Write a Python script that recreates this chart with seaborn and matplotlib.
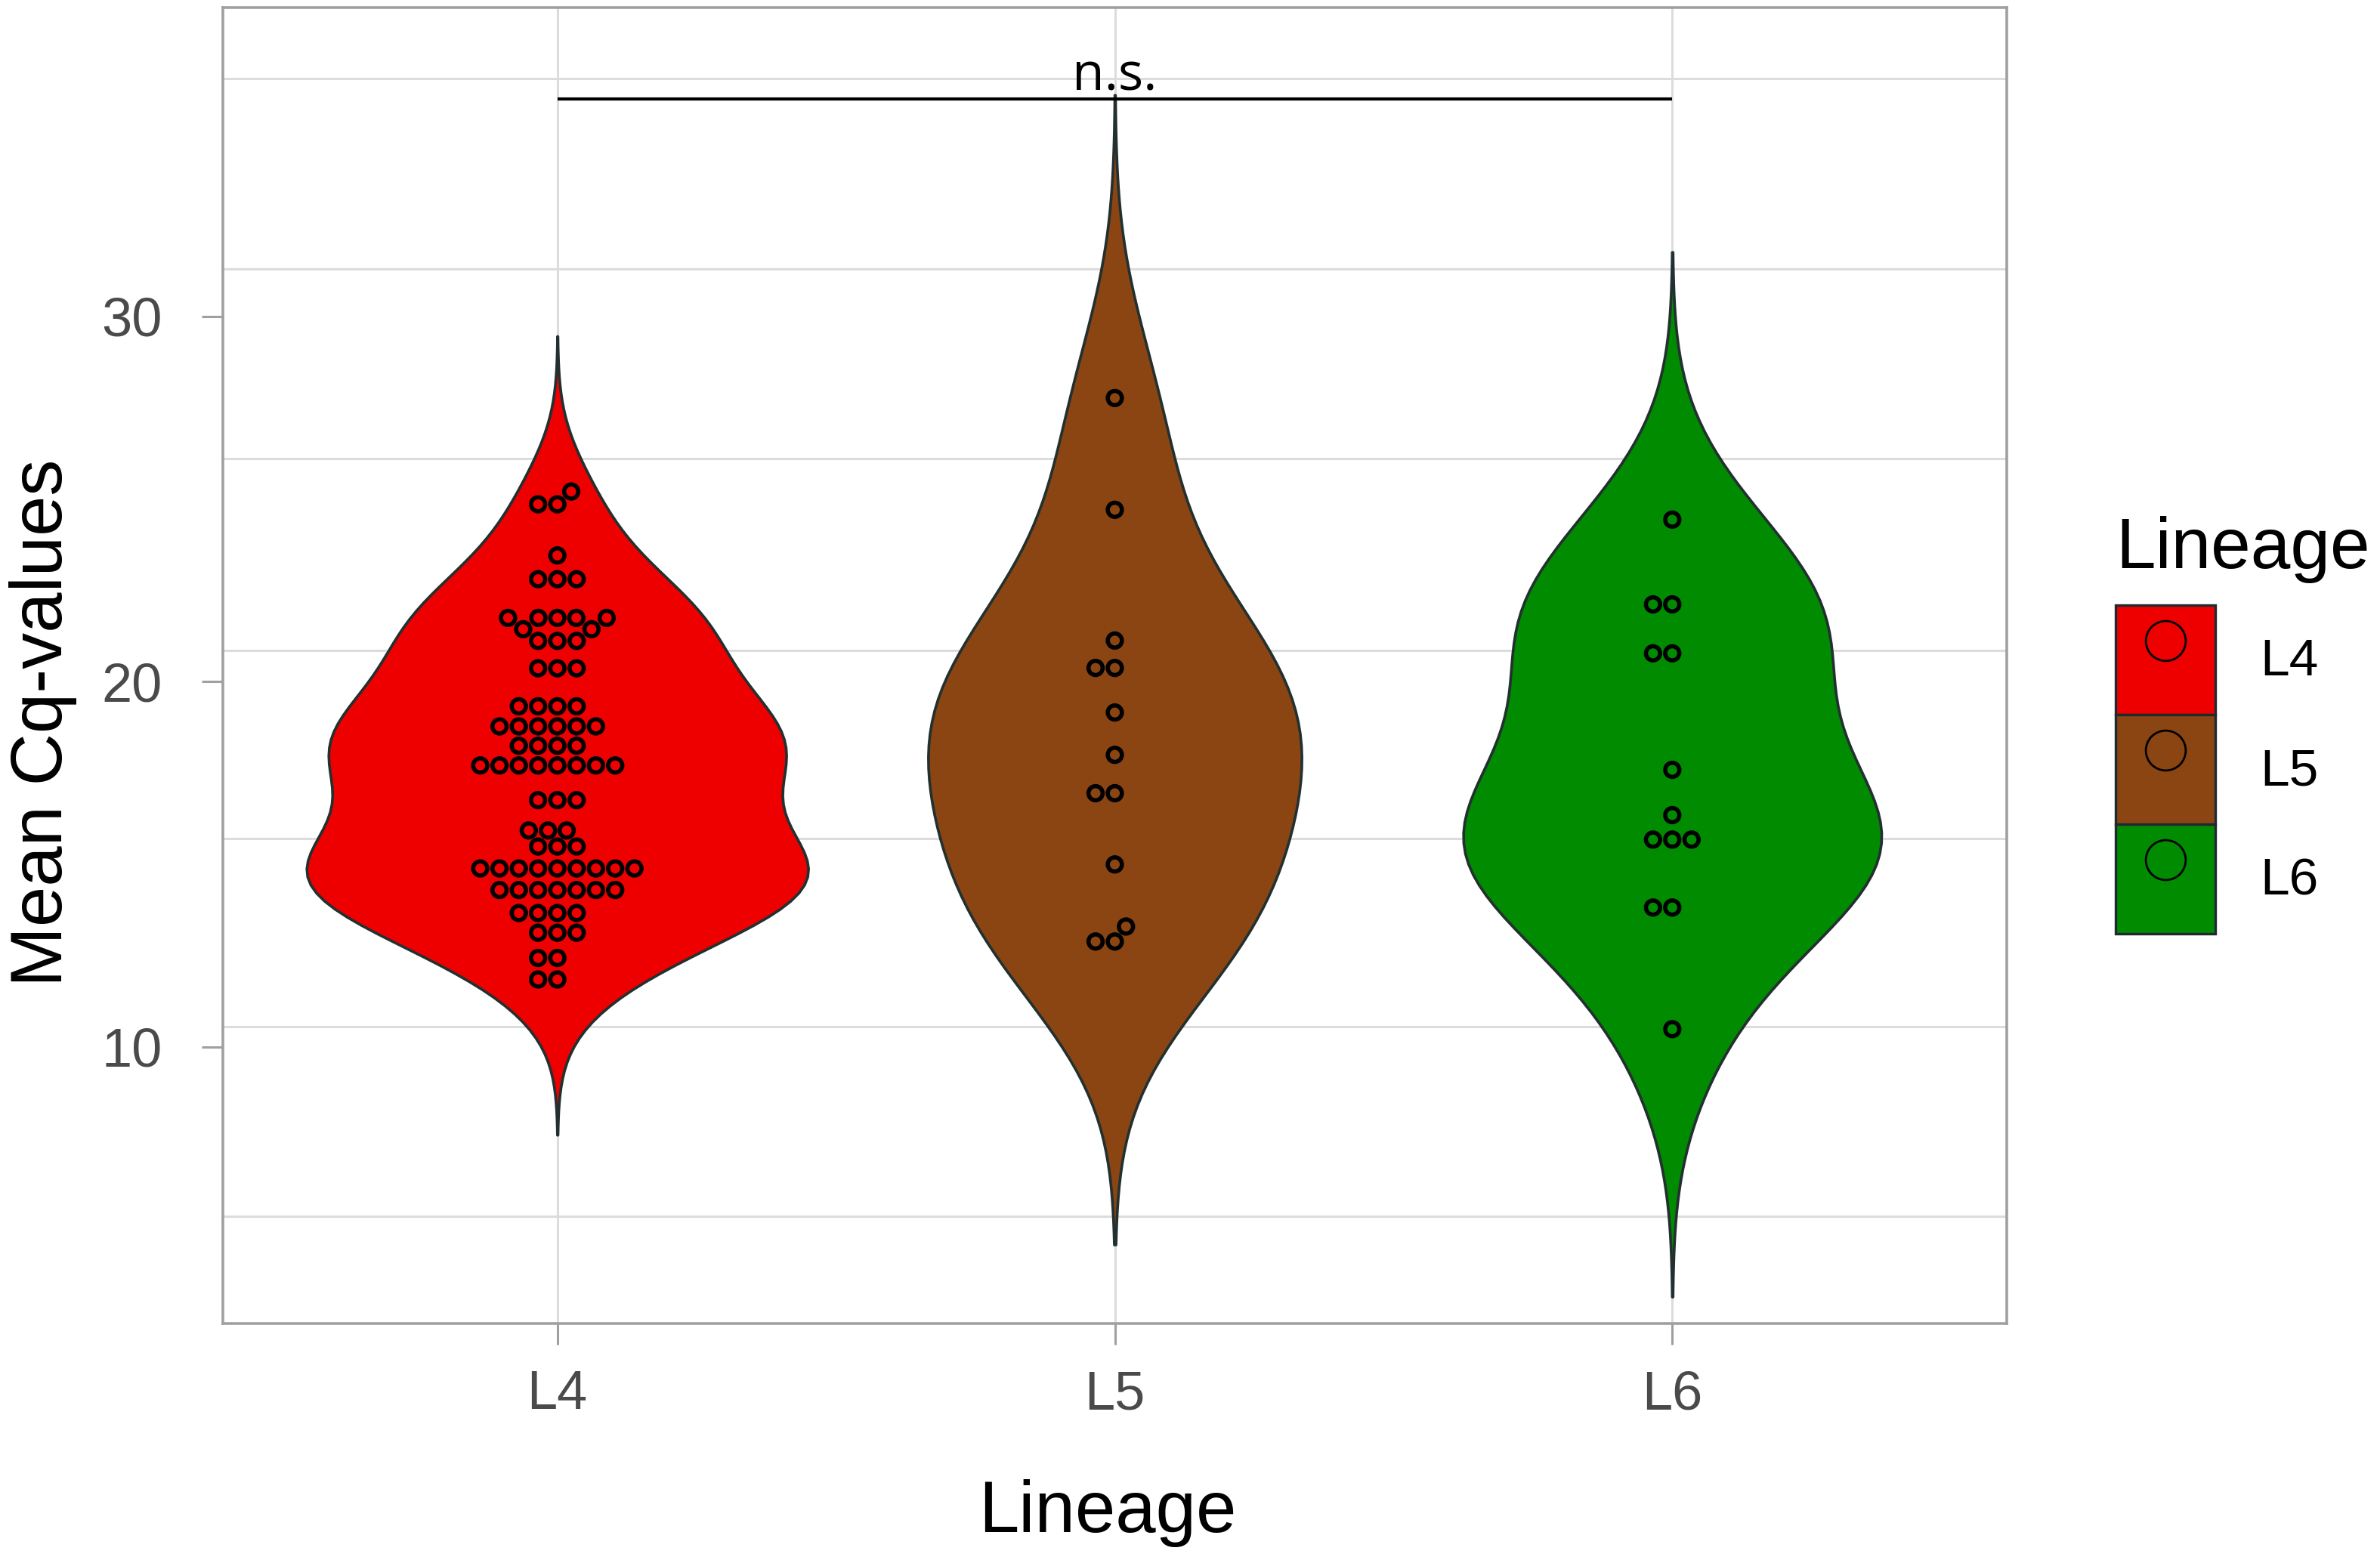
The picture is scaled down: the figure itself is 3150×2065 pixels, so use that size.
import numpy as np
import pandas as pd
import matplotlib
matplotlib.use("Agg")
import matplotlib.pyplot as plt
import seaborn as sns
from matplotlib.patches import Patch
from matplotlib.lines import Line2D

# ---------------- data ----------------
lineages = ["L4", "L5", "L6"]
colors = ["#EE0000", "#8B4513", "#008B00"]

l4_cq = [25.2,
         24.85, 24.85,
         23.45,
         22.8, 22.8, 22.8,
         21.74, 21.74, 21.74, 21.74, 21.74,
         21.43, 21.43,
         21.11, 21.11, 21.11,
         20.36, 20.36, 20.36,
         19.32, 19.32, 19.32, 19.32,
         18.77, 18.77, 18.77, 18.77, 18.77, 18.77,
         18.24, 18.24, 18.24, 18.24,
         17.7, 17.7, 17.7, 17.7, 17.7, 17.7, 17.7, 17.7,
         16.75, 16.75, 16.75,
         15.92, 15.92, 15.92,
         15.48, 15.48, 15.48,
         14.88, 14.88, 14.88, 14.88, 14.88, 14.88, 14.88, 14.88, 14.88,
         14.29, 14.29, 14.29, 14.29, 14.29, 14.29, 14.29,
         13.66, 13.66, 13.66, 13.66,
         13.12, 13.12, 13.12,
         12.43, 12.43,
         11.84, 11.84]
l5_cq = [27.76, 24.7, 21.12, 20.37, 20.37, 19.15, 17.99, 16.94, 16.94,
         14.99, 13.29, 12.88, 12.88]
l6_cq = [24.43, 22.11, 22.11, 20.77, 20.77, 17.58, 16.34, 15.67, 15.67,
         15.67, 13.81, 13.81, 10.48]

y_ticks = [10, 20, 30]
grid_y = [36.5, 31.3, 26.1, 20.85, 15.7, 10.55, 5.35]
sig_label = "n.s."
sig_y = 35.95
sig_text_y = 36.18

df = pd.DataFrame({
    "Lineage": ["L4"] * len(l4_cq) + ["L5"] * len(l5_cq) + ["L6"] * len(l6_cq),
    "Cq": l4_cq + l5_cq + l6_cq,
})

# per-violin smoothing / width (style)
violin_bw = {"L4": 1.0, "L5": 1.02, "L6": 1.0}
violin_width = {"L4": 0.90, "L5": 0.67, "L6": 0.75}
pal = dict(zip(lineages, colors))

# ---------------- figure ----------------
plt.rcParams["font.family"] = ["Liberation Sans", "DejaVu Sans"]
W, H = 3150, 2065
fig = plt.figure(figsize=(W / 100, H / 100), dpi=100)
ax = fig.add_axes([295 / W, 1 - 1752 / H, (2656 - 295) / W, (1752 - 10) / H])

for lin in lineages:
    sub = df[df["Lineage"] == lin]
    sns.violinplot(data=sub, x="Lineage", y="Cq", hue="Lineage", order=lineages,
                   hue_order=lineages, palette=pal, dodge=False, saturation=1,
                   density_norm="width", bw_method="scott",
                   bw_adjust=violin_bw[lin], cut=3, width=violin_width[lin],
                   inner=None, linecolor="#22302f", linewidth=2.6,
                   legend=False, ax=ax, zorder=2)

sns.swarmplot(data=df, x="Lineage", y="Cq", hue="Lineage", order=lineages,
              hue_order=lineages, palette=pal, dodge=False, size=13.5,
              edgecolor="black", linewidth=4, legend=False, ax=ax, zorder=3)

# significance bracket
ax.plot([lineages[0], lineages[2]], [sig_y, sig_y], color="black", lw=3,
        zorder=4, solid_capstyle="butt")
ax.text(1, sig_text_y, sig_label, ha="center", va="baseline", fontsize=50,
        family=["Open Sans", "DejaVu Sans"], color="black", zorder=5)

# axes styling
ax.set_xlim(-0.6, 2.6)
ax.set_ylim(2.42, 38.45)
ax.set_yticks(y_ticks)
ax.set_yticks(grid_y, minor=True)
ax.set_axisbelow(True)
ax.yaxis.grid(True, which="minor", color="#dcdcdc", lw=2.2)
ax.yaxis.grid(False, which="major")
ax.xaxis.grid(True, which="major", color="#dcdcdc", lw=2.2)
ax.tick_params(axis="y", which="minor", length=0)
ax.tick_params(axis="both", which="major", length=20, width=2.2,
               color="#a0a0a0", labelsize=52, labelcolor="#4a4a4a")
ax.tick_params(axis="y", which="major", pad=38)
ax.tick_params(axis="x", which="major", pad=24)
for sp in ax.spines.values():
    sp.set_color("#a0a0a0")
    sp.set_linewidth(2.6)

ax.set_xlabel("Lineage", fontsize=69, color="black")
ax.set_ylabel("Mean Cq-values", fontsize=69, color="black")
ax.xaxis.set_label_coords(0.496, -0.118)
ax.yaxis.set_label_coords(-0.0817, 0.4564)

# legend
handles = [(Patch(facecolor=c, edgecolor="#1f2a30", linewidth=2.4),
            Line2D([], [], ls="none", marker="o", markersize=38,
                   markerfacecolor="none", markeredgecolor="black",
                   markeredgewidth=2)) for c in colors]
leg = fig.legend(handles, lineages, loc="upper left",
                 bbox_to_anchor=(2800 / W, 1 - 683 / H),
                 bbox_transform=fig.transFigure, frameon=False,
                 title="Lineage", title_fontsize=68, fontsize=50,
                 handlelength=1.9, handleheight=2.835, handletextpad=0.85,
                 labelspacing=0, borderpad=0, borderaxespad=0,
                 alignment="left")
try:
    leg._legend_box.sep = 21
except Exception:
    pass

fig.savefig("out.png", dpi=100)
